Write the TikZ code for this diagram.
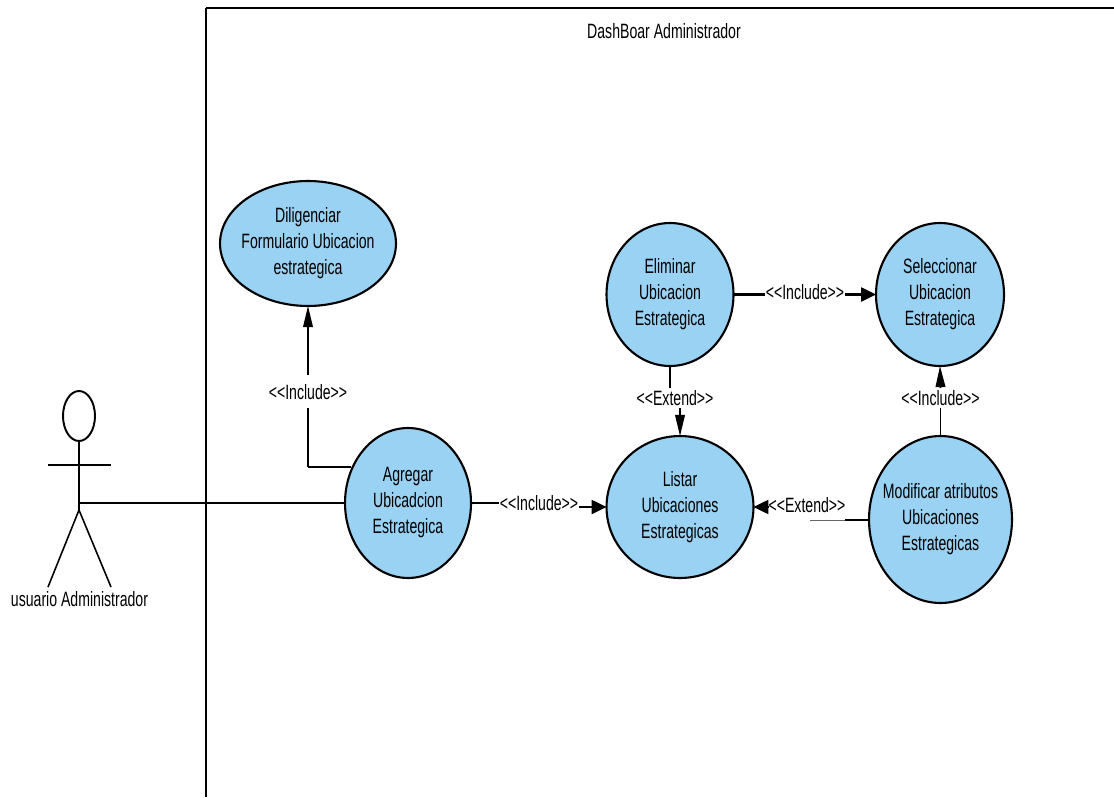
\documentclass[tikz,border=0pt]{standalone}
\usepackage{fontspec}
\setmainfont{Liberation Sans}[FakeStretch=0.68, Ligatures=NoCommon]
\usepackage{tikz}
\usetikzlibrary{shapes.geometric, arrows.meta}
\definecolor{CaseBlue}{HTML}{9AD2F4}
\newcommand{\incl}{<{}<Include>{}>}
\newcommand{\extd}{<{}<Extend>{}>}
\tikzset{
  casenode/.style={ellipse, draw=black, fill=CaseBlue, line width=1.2pt, inner xsep=-12pt, inner ysep=0pt, outer sep=0pt, align=center, font=\fontsize{11.8}{14.8}\selectfont},
  rellabel/.style={inner sep=0pt, font=\fontsize{11.8}{13}\selectfont},
  relline/.style={line width=1.2pt},
  vertline/.style={line width=0.9pt},
  relarrow/.style={line width=0.9pt, -{Triangle[length=12pt, width=5.5pt]}},
  shortarrow/.style={line width=1.2pt, -{Triangle[length=8.5pt, width=8pt]}}
}
\begin{document}
\begin{tikzpicture}[x=0.02cm, y=-0.02cm]
  \useasboundingbox (0,0) rectangle (1114,797);

  % System frame
  \coordinate (frameTop) at (1114,8);
  \coordinate (frameCorner) at (206,8);
  \coordinate (frameBottom) at (206,797);
  \draw[relline] (frameTop) -- (frameCorner);
  \draw[vertline] (frameCorner) -- (frameBottom);
  \node[rellabel] (title) at (664,31) {DashBoar Administrador};

  % Actor
  \node[ellipse, draw=black, line width=1.1pt, fill=white, minimum width=0.64cm, minimum height=1cm, inner sep=0pt, outer sep=0pt] (head) at (79,416) {};
  \coordinate (hip) at (79,510);
  \coordinate (armL) at (48,465);
  \coordinate (armR) at (111,465);
  \coordinate (footL) at (48,587);
  \coordinate (footR) at (111,587);
  \coordinate (waist) at (79,503);
  \draw[vertline] (head) -- (hip);
  \draw[relline] (armL) -- (armR);
  \draw[vertline] (footL) -- (hip) -- (footR);
  \node[rellabel] (actor) at (79.5,599) {usuario Administrador};

  % Use cases
  \node[casenode, minimum width=3.52cm, minimum height=2.5cm] (diligenciar) at (308,243.5) {Diligenciar\\Formulario Ubicacion\\estrategica};
  \node[casenode, minimum width=2.54cm, minimum height=2.86cm] (eliminar) at (670,294.5) {Eliminar\\Ubicacion\\Estrategica};
  \node[casenode, minimum width=2.56cm, minimum height=2.86cm] (seleccionar) at (940,294.5) {Seleccionar\\Ubicacion\\Estrategica};
  \node[casenode, minimum width=2.52cm, minimum height=3cm] (agregar) at (408,503) {Agregar\\Ubicadcion\\Estrategica};
  \node[casenode, minimum width=2.94cm, minimum height=2.84cm] (listar) at (680,507) {Listar\\Ubicaciones\\Estrategicas};
  \node[casenode, minimum width=2.86cm, minimum height=3.34cm] (modificar) at (940.5,519.5) {Modificar atributos\\Ubicaciones\\Estrategicas};

  % Relation labels
  \node[rellabel] (incForm) at (308,392) {\incl};
  \node[rellabel] (incList) at (539,503) {\incl};
  \node[rellabel] (incSel) at (805,292) {\incl};
  \node[rellabel] (incMod) at (940.5,398) {\incl};
  \node[rellabel] (extElim) at (675,398) {\extd};
  \node[rellabel] (extMod) at (807,505) {\extd};

  % Relations
  \draw[relline] (waist) -- (waist-|agregar.west);
  \coordinate (bendA) at (351,467);
  \coordinate (bendB) at (308,467);
  \coordinate (bendC) at (308,408);
  \coordinate (formTail) at (308,375);
  \draw[vertline] (bendC) -- (bendB);
  \draw[relline] (bendB) -- (bendA);
  \draw[relarrow] (formTail) -- (diligenciar.south);

  \draw[relline] (agregar.east) -- (incList.west);
  \coordinate (listTail) at (579,507);
  \draw[shortarrow] (listTail) -- (listTail-|listar.west);

  \coordinate (selGap) at (765,294.5);
  \coordinate (selTail) at (845,294.5);
  \draw[relline] (eliminar.east) -- (selGap);
  \draw[shortarrow] (selTail) -- (seleccionar.west);

  \coordinate (elimGap) at (670,388);
  \coordinate (elimTail) at (680,408);
  \draw[vertline] (eliminar.south) -- (elimGap);
  \draw[relarrow] (elimTail) -- (listar.north);

  \coordinate (modGap) at (940.5,408);
  \coordinate (modTail) at (940.5,388);
  \draw[vertline] (modificar.north) -- (modGap);
  \draw[relarrow] (modTail) -- (seleccionar.south);

  \coordinate (thickEnd) at (845,520);
  \coordinate (thinEnd) at (810,520);
  \coordinate (extTail) at (768,507);
  \draw[relline] (thickEnd-|modificar.west) -- (thickEnd);
  \draw[line width=0.4pt, black!60] (thickEnd) -- (thinEnd);
  \draw[shortarrow] (extTail) -- (extTail-|listar.east);
\end{tikzpicture}
\end{document}
